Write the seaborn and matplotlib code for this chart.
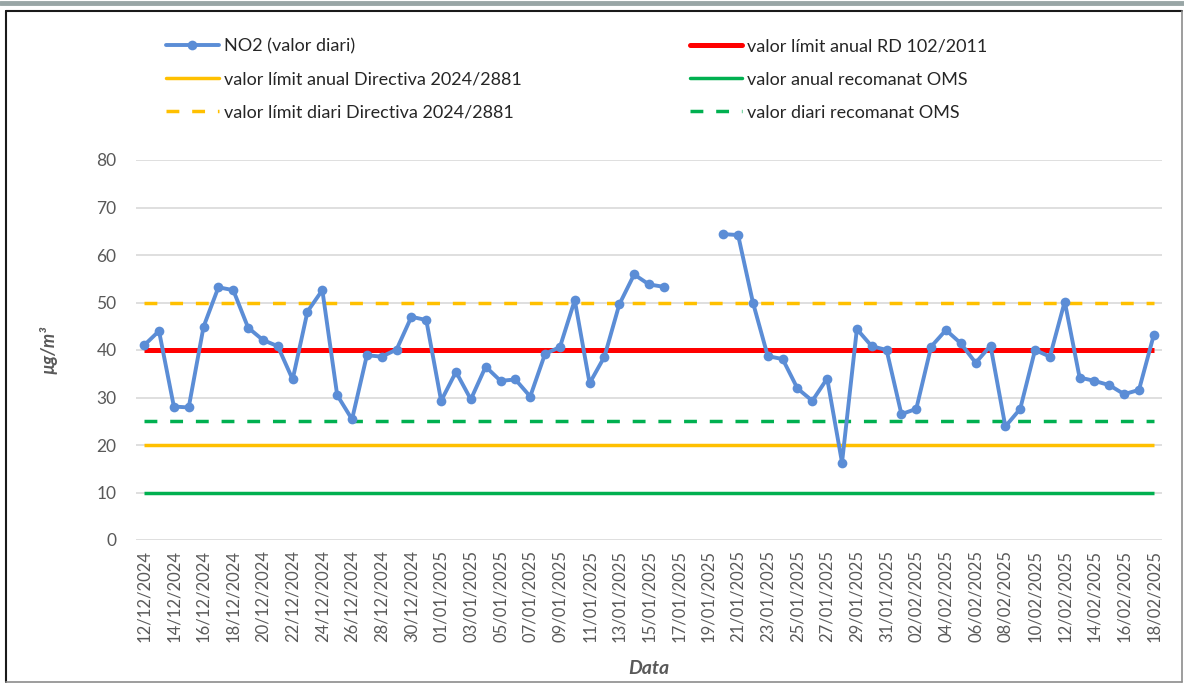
import numpy as np
import pandas as pd
import matplotlib
matplotlib.use("Agg")
import matplotlib.pyplot as plt
import seaborn as sns
from matplotlib.lines import Line2D

sns.set_style("white")
plt.rcParams["font.family"] = ["Lato", "DejaVu Sans"]

# daily NO2 values, 12/12/2024 -> 18/02/2025 (17-19/01 missing)
dates = pd.date_range("2024-12-12", "2025-02-18", freq="D").strftime("%d/%m/%Y").tolist()
no2 = [41.0, 44.0, 28.1, 27.9, 44.9, 53.2, 52.6, 44.7, 42.1, 40.8,
       33.8, 48.1, 52.6, 30.5, 25.4, 38.9, 38.6, 40.1, 47.0, 46.3,
       29.3, 35.4, 29.6, 36.5, 33.5, 33.8, 30.2, 39.2, 40.6, 50.5,
       33.0, 38.6, 49.6, 55.9, 53.8, 53.3, np.nan, np.nan, np.nan, 64.4,
       64.2, 50.0, 38.7, 38.1, 31.9, 29.3, 34.0, 16.3, 44.4, 40.8,
       40.0, 26.5, 27.6, 40.7, 44.2, 41.4, 37.3, 40.9, 23.9, 27.6,
       40.0, 38.6, 50.2, 34.2, 33.5, 32.6, 30.7, 31.6, 43.2]

limit_names = ["valor límit anual RD 102/2011",
               "valor límit anual Directiva 2024/2881",
               "valor anual recomanat OMS",
               "valor límit diari Directiva 2024/2881",
               "valor diari recomanat OMS"]
limit_values = [40, 20, 10, 50, 25]
limit_colors = ["#FF0000", "#FFC000", "#00B050", "#FFC000", "#00B050"]
limit_dashed = [False, False, False, True, True]

df = pd.DataFrame({"dia": np.arange(len(dates)), "no2": no2})
df["tram"] = df["no2"].isna().cumsum()
df = df.dropna()

W, H = 1184, 684
fig = plt.figure(figsize=(W / 100, H / 100), dpi=100)
ax = fig.add_axes([136 / W, 1 - 540 / H, (1162 - 136) / W, (540 - 160) / H])

grey = "#595959"
blue = "#5B8DD6"
dash = (3.7, 3.7)

# limit lines (constant series over the whole period)
n = len(dates)
for name, val, col, dashed in zip(limit_names, limit_values, limit_colors, limit_dashed):
    lw = 3.6 if col == "#FF0000" else 2.5
    ls = (0, dash) if dashed else "-"
    ax.hlines(val, 0, n - 1, colors=col, linewidth=lw, linestyles=ls, zorder=2)

sns.lineplot(data=df, x="dia", y="no2", units="tram", estimator=None, ax=ax,
             color=blue, linewidth=2.8, marker="o", markersize=7,
             markeredgewidth=0, zorder=3, legend=False)

ax.set_xlim(-0.55, n - 0.45)
ax.set_ylim(0, 80)
ax.set_yticks(range(0, 81, 10))
ax.set_xticks(range(0, n, 2))
ax.set_xticklabels(dates[::2], rotation=90)
ax.tick_params(axis="both", length=0, colors=grey, labelsize=12)
ax.tick_params(axis="y", pad=14, labelsize=12.5)
ax.tick_params(axis="x", pad=7)
ax.grid(axis="y", color="#D9D9D9", linewidth=1.2)
ax.set_axisbelow(True)
for s in ax.spines.values():
    s.set_visible(False)

ax.set_xlabel("Data", fontsize=14, fontweight="bold", fontstyle="italic", color=grey)
ax.set_ylabel("µg/m³", fontsize=13, fontweight="bold", fontstyle="italic", color=grey)
ax.xaxis.set_label_coords(0.5, -(660 - 540) / 380, transform=ax.transAxes)
ax.yaxis.set_label_coords(-(136 - 58) / 1026, 0.5)

# legend, Excel-like order (column first)
handles = [
    Line2D([], [], color=blue, linewidth=2.8, marker="o", markersize=7, markeredgewidth=0),
    Line2D([], [], color=limit_colors[1], linewidth=2.5),
    Line2D([], [], color=limit_colors[3], linewidth=2.5, linestyle=(0, dash)),
    Line2D([], [], color=limit_colors[0], linewidth=3.6),
    Line2D([], [], color=limit_colors[2], linewidth=2.5),
    Line2D([], [], color=limit_colors[4], linewidth=2.5, linestyle=(0, dash)),
]
labels = ["NO2 (valor diari)", limit_names[1], limit_names[3],
          limit_names[0], limit_names[2], limit_names[4]]
fig.legend(handles, labels, loc="upper left", bbox_to_anchor=(150 / W, 1 - 22 / H),
           ncol=2, frameon=False, fontsize=13, handlelength=2.9, handletextpad=0.3,
           labelspacing=0.95, columnspacing=9.3, labelcolor="#262626")

# outer frame like the source screenshot
fig.add_artist(Line2D([0, 1], [1 - 3 / H, 1 - 3 / H], color="#99A6A6", linewidth=3.5))
fig.add_artist(Line2D([6 / W, 1182 / W], [1 - 11 / H, 1 - 11 / H], color="#1a1a1a", linewidth=1.5))
fig.add_artist(Line2D([6 / W, 6 / W], [1 - 11 / H, 1 - 682 / H], color="#1a1a1a", linewidth=1.5))
fig.add_artist(Line2D([1182 / W, 1182 / W], [1 - 11 / H, 1 - 682 / H], color="#8c8c8c", linewidth=1.2))
fig.add_artist(Line2D([6 / W, 1182 / W], [1 - 682 / H, 1 - 682 / H], color="#8c8c8c", linewidth=1.2))

fig.savefig("out.png", dpi=100)
